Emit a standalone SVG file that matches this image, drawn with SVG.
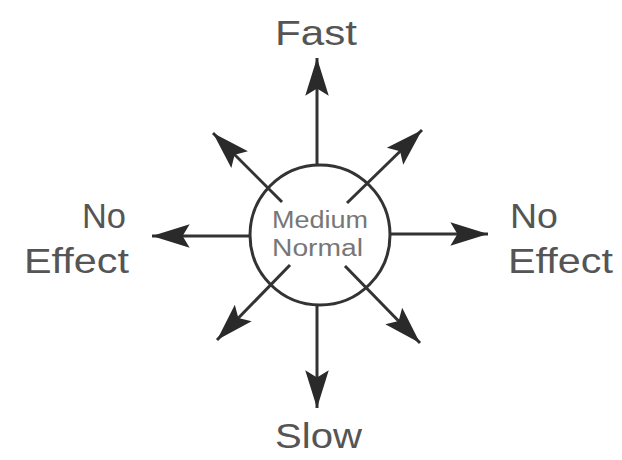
<svg xmlns="http://www.w3.org/2000/svg" width="622" height="460" viewBox="0 0 622 460">
<style>
.lbl{font-family:"Liberation Sans",Arial,sans-serif;font-size:35px;fill:#555}
.mid{font-family:"Liberation Sans",Arial,sans-serif;font-size:23px;fill:#777}
.arr{stroke:#333;stroke-width:3;fill:none;marker-end:url(#ah)}
</style>
<defs>
<marker id="ah" markerUnits="userSpaceOnUse" markerWidth="40" markerHeight="30" viewBox="-32 -12 34 24" refX="0" refY="0" orient="auto">
<path d="M0,0 L-32,-10 L-26,0 L-32,10 Z" fill="#2a2a2a"/>
</marker>
</defs>
<rect width="622" height="460" fill="#fff"/>
<g id="connectors">
<line class="arr" x1="317" y1="165" x2="317" y2="58"/>
<line class="arr" x1="317" y1="305" x2="317" y2="408"/>
<line class="arr" x1="250" y1="236" x2="152" y2="236"/>
<line class="arr" x1="390" y1="234" x2="488" y2="234"/>
<line class="arr" x1="282" y1="202" x2="213" y2="133"/>
<line class="arr" x1="347" y1="203" x2="422" y2="130"/>
<line class="arr" x1="290" y1="265" x2="217" y2="340"/>
<line class="arr" x1="345" y1="266" x2="420" y2="343"/>
</g>
<g id="center">
<circle cx="320" cy="235" r="70" fill="none" stroke="#333" stroke-width="3"/>
<text class="mid" x="272" y="228" textLength="96" lengthAdjust="spacingAndGlyphs">Medium</text>
<text class="mid" x="272" y="256" textLength="91" lengthAdjust="spacingAndGlyphs">Normal</text>
</g>
<g id="fast"><text class="lbl" x="275" y="45" textLength="82" lengthAdjust="spacingAndGlyphs">Fast</text></g>
<g id="slow"><text class="lbl" x="275" y="448" textLength="87" lengthAdjust="spacingAndGlyphs">Slow</text></g>
<g id="left">
<text class="lbl" x="82" y="228" textLength="44" lengthAdjust="spacingAndGlyphs">No</text>
<text class="lbl" x="24" y="273" textLength="105" lengthAdjust="spacingAndGlyphs">Effect</text>
</g>
<g id="right">
<text class="lbl" x="510" y="228" textLength="48" lengthAdjust="spacingAndGlyphs">No</text>
<text class="lbl" x="508" y="273" textLength="105" lengthAdjust="spacingAndGlyphs">Effect</text>
</g>
</svg>
